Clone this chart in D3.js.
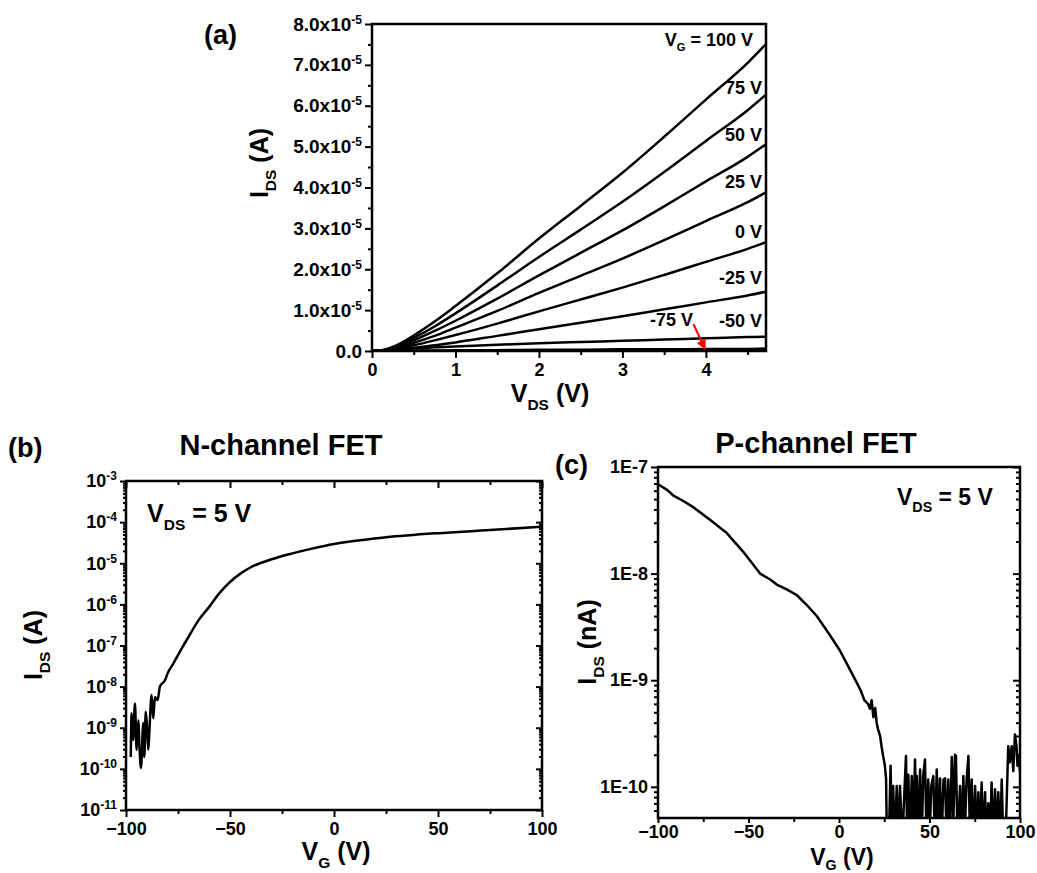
<!DOCTYPE html>
<html>
<head>
<meta charset="utf-8">
<script src="https://cdn.jsdelivr.net/npm/d3@7"></script>
<style>
body { margin: 0; background: #fff; }
svg text { font-family: "Liberation Sans", Arial, sans-serif; font-weight: bold; fill: #000; }
</style>
</head>
<body>
<svg id="svg"></svg>
<script>
// ---- panel (a): output curves, I_DS in units of 1e-5 A ----
const vds = [0, 0.1, 0.25, 0.5, 0.75, 1, 1.5, 2, 2.5, 3, 3.5, 4, 4.5, 4.72];
const idsVg100 = [0, 0.01, 0.1, 0.38, 0.72, 1.1, 1.9, 2.75, 3.55, 4.36, 5.24, 6.15, 7.05, 7.51];
const idsVg75 = [0, 0.01, 0.08, 0.32, 0.6, 0.92, 1.6, 2.3, 2.97, 3.65, 4.38, 5.14, 5.89, 6.27];
const idsVg50 = [0, 0.01, 0.07, 0.26, 0.49, 0.74, 1.28, 1.85, 2.4, 2.95, 3.54, 4.15, 4.75, 5.06];
const idsVg25 = [0, 0.01, 0.05, 0.2, 0.37, 0.57, 0.98, 1.42, 1.84, 2.26, 2.71, 3.18, 3.64, 3.88];
const idsVg0 = [0, 0, 0.04, 0.14, 0.26, 0.39, 0.67, 0.97, 1.26, 1.55, 1.86, 2.18, 2.5, 2.66];
const idsVgM25 = [0, 0, 0.02, 0.08, 0.14, 0.21, 0.37, 0.53, 0.69, 0.85, 1.02, 1.19, 1.36, 1.45];
const idsVgM50 = [0, 0, 0.03, 0.06, 0.09, 0.11, 0.15, 0.19, 0.22, 0.25, 0.28, 0.31, 0.34, 0.35];
const idsVgM75 = [0, 0, 0, 0.01, 0.01, 0.02, 0.02, 0.03, 0.03, 0.04, 0.04, 0.05, 0.05, 0.06];
const idsVgM100 = [0, 0, 0, 0, 0, 0, 0, 0.01, 0.01, 0.01, 0.01, 0.01, 0.01, 0.01];
const gateLabels = ["100", "75 V", "50 V", "25 V", "0 V", "-25 V", "-50 V"];
const xTicksA = [0, 1, 2, 3, 4];
const yTicksA = [0, 1, 2, 3, 4, 5, 6, 7, 8];

// ---- panel (b): N-channel transfer curve ----
const vgN = [-97.7, -97.3, -96.6, -95.7, -94.9, -94.1, -93.5, -92.8, -91.7, -91.2, -90.5, -89.9, -89.3, -88.8,
  -87.7, -86.9, -86.1, -84.8, -83.7, -81.2, -80, -77.3, -73.2, -70, -65, -60, -55, -50, -45, -40,
  -30, -20, -10, 0, 25, 50, 75, 100];
const idsN = [1.95e-10, 2.24e-9, 5e-10, 3.9e-9, 2.9e-10, 1.5e-9, 3.2e-10, 1.05e-10, 1.3e-9, 1.95e-10, 2.45e-9, 1.05e-9, 2.9e-10, 7.4e-10,
  6.3e-9, 1.7e-9, 5.6e-9, 4.7e-9, 1e-8, 1.45e-8, 2.1e-8, 3.6e-8, 8.5e-8, 1.6e-7, 4.2e-7, 8.7e-7, 1.9e-6, 3.5e-6, 5.6e-6, 8.0e-6,
  1.25e-5, 1.74e-5, 2.3e-5, 2.93e-5, 4.27e-5, 5.4e-5, 6.4e-5, 7.8e-5];
const xTicksB = [-100, -50, 0, 50, 100];
const yTicksB = [1e-11, 1e-10, 1e-9, 1e-8, 1e-7, 1e-6, 1e-5, 1e-4, 1e-3];

// ---- panel (c): P-channel transfer curve ----
const vgP = [-100, -98.9, -95, -91.5, -86, -80.5, -71.3, -62, -52.9, -43.6, -38, -34.4, -28.9, -23.4, -17.9, -12.3, -6, 0.5, 5.1, 9.8,
  12, 14, 16, 17.1, 18, 19, 20, 20.8, 21.5, 22.7, 23.5, 24.5, 25.3, 26, 26.5,
  27.5, 28.5, 29.2, 29.9, 30.8, 31.9, 32.8, 33.7, 35, 36, 37, 37.6, 38.3, 39.2, 40.2, 41.1, 42, 42.5, 43, 43.9,
  44.8, 45.7, 46.5, 47.5, 48.4, 49.3, 50.2, 51, 52.1, 53, 54, 54.9, 55.8, 56.7, 57.7, 58.6, 59.5, 60.4, 61.3,
  62.3, 63.2, 64.1, 64.6, 65.5, 66.9, 67.8, 68.7, 69.6, 70.5, 71.5, 72.4, 73.3, 74.2, 75.2, 76.1, 77, 77.9,
  78.8, 79.7, 80.7, 81.6, 82.5, 83.4, 84.3, 85.2, 86.2, 87.1, 88, 89, 89.9, 90.8, 92, 92.6, 93.5, 94.4, 95.4,
  96.3, 97.2, 98.1, 98.6, 99.1, 100];
const idsP = [6.9e-8, 6.7e-8, 6.1e-8, 5.4e-8, 4.8e-8, 4.2e-8, 3.2e-8, 2.4e-8, 1.6e-8, 1e-8, 8.8e-9, 7.9e-9, 7.1e-9, 6.3e-9, 5.1e-9, 4e-9, 2.8e-9, 1.9e-9, 1.35e-9, 9.5e-10,
  8e-10, 6.5e-10, 6e-10, 5.4e-10, 6.5e-10, 4.5e-10, 5.5e-10, 4e-10, 3.5e-10, 3e-10, 2.4e-10, 1.9e-10, 1.6e-10, 1.2e-10, 3e-11,
  3e-11, 1.58e-10, 3e-11, 1.02e-10, 3e-11, 1.02e-10, 3e-11, 1.02e-10, 3e-11, 8e-11, 1.95e-10, 4e-11, 1.3e-10, 3e-11, 1.26e-10, 4e-11, 1.8e-10, 5e-11, 1.26e-10, 3e-11,
  1.45e-10, 3e-11, 1.26e-10, 1.8e-10, 3e-11, 1.17e-10, 4e-11, 1.02e-10, 1.26e-10, 3e-11, 1.45e-10, 4e-11, 1.2e-10, 3e-11, 1.17e-10, 1.2e-10, 3e-11, 1.17e-10, 3e-11,
  1.9e-10, 5e-11, 2e-10, 1.95e-10, 3e-11, 1.02e-10, 3e-11, 1.26e-10, 4e-11, 1.17e-10, 1.95e-10, 3e-11, 1.17e-10, 3e-11, 1.02e-10, 3e-11, 8.9e-11, 3e-11,
  1.1e-10, 3e-11, 8.9e-11, 3e-11, 7e-11, 3e-11, 1.1e-10, 3e-11, 9.5e-11, 3e-11, 8.9e-11, 3e-11, 1.17e-10, 3e-11, 3e-11, 7e-11, 2.4e-10, 1.7e-10, 2.4e-10,
  1.4e-10, 3.1e-10, 2.4e-10, 1.58e-10, 2e-10, 1.4e-10];
const xTicksC = [-100, -50, 0, 50, 100];
const yTicksC = [1e-10, 1e-9, 1e-8, 1e-7];

const w = 1037, h = 873;
const tickFont = 18;

const svg = d3.select("#svg").attr("width", w).attr("height", h);
svg.append("rect").attr("width", w).attr("height", h).attr("fill", "#fff");

const defs = svg.append("defs");
defs.append("marker")
  .attr("id", "arrow").attr("viewBox", "0 0 10 10").attr("refX", 9).attr("refY", 5)
  .attr("markerWidth", 5).attr("markerHeight", 5).attr("orient", "auto")
  .append("path").attr("d", "M0,0 L10,5 L0,10 z").attr("fill", "red");

// text with sub/superscripts: parts = [[text, 0|1|-1]]  (1 = subscript, -1 = superscript)
function richText(g, x, y, parts, size, anchor, rotate, subDrop) {
  const drop = subDrop || 0.3;
  const t = g.append("text")
    .attr("text-anchor", anchor || "start")
    .attr("font-size", size);
  if (rotate) t.attr("transform", `translate(${x},${y}) rotate(-90)`);
  else t.attr("x", x).attr("y", y);
  let shift = 0;
  parts.forEach(p => {
    const s = p[1] === 1 ? size * drop : p[1] === -1 ? -size * 0.42 : 0;
    t.append("tspan")
      .attr("dy", s - shift)
      .attr("font-size", p[1] === 0 ? size : size * 0.62)
      .text(p[0]);
    shift = s;
  });
  return t;
}

function styleAxis(sel) {
  sel.select(".domain").remove();
  sel.selectAll(".tick line").attr("stroke", "#000").attr("stroke-width", 2);
  sel.selectAll(".tick text").attr("font-size", tickFont).attr("fill", "#000");
}

function frame(g, x0, x1, y0, y1) {
  g.append("rect").attr("x", x0).attr("y", y0).attr("width", x1 - x0).attr("height", y1 - y0)
    .attr("fill", "none").attr("stroke", "#000").attr("stroke-width", 2.5);
}

function clip(id, x0, x1, y0, y1) {
  defs.append("clipPath").attr("id", id).append("rect")
    .attr("x", x0).attr("y", y0).attr("width", x1 - x0).attr("height", y1 - y0);
}

// =================== panel (a) ===================
const xA = d3.scaleLinear().domain([0, 4.72]).range([372, 766]);
const yA = d3.scaleLinear().domain([0, 8]).range([351, 24]);
const gA = svg.append("g");
clip("clipA", 372, 766, 24, 351);

gA.append("g").attr("transform", `translate(0,${yA(0)})`)
  .call(d3.axisBottom(xA).tickValues(d3.range(0.5, 4.6, 1)).tickSize(4).tickFormat(""))
  .call(styleAxis);
gA.append("g").attr("transform", `translate(0,${yA(0)})`)
  .call(d3.axisBottom(xA).tickValues(xTicksA).tickSize(7).tickPadding(5).tickFormat(d3.format("d")))
  .call(styleAxis);
gA.append("g").attr("transform", `translate(${xA(0)},0)`)
  .call(d3.axisLeft(yA).tickValues(d3.range(0.5, 8, 1)).tickSize(4).tickFormat(""))
  .call(styleAxis);
gA.append("g").attr("transform", `translate(${xA(0)},0)`)
  .call(d3.axisLeft(yA).tickValues(yTicksA).tickSize(7).tickPadding(3))
  .call(styleAxis)
  .selectAll(".tick text")
  .attr("font-size", 19)
  .each(function(d) {
    const t = d3.select(this).text("");
    if (d === 0) { t.text("0.0"); return; }
    t.append("tspan").text(d.toFixed(1) + "x10");
    t.append("tspan").attr("dy", -7).attr("font-size", 12).text("-5");
  });

const curvesA = [idsVg100, idsVg75, idsVg50, idsVg25, idsVg0, idsVgM25, idsVgM50, idsVgM75, idsVgM100];
const lineA = d3.line().curve(d3.curveMonotoneX).x((d, i) => xA(vds[i])).y(d => yA(d));
gA.append("g").attr("clip-path", "url(#clipA)")
  .selectAll("path").data(curvesA).join("path")
  .attr("d", lineA).attr("fill", "none").attr("stroke", "#000").attr("stroke-width", 2.5);

frame(gA, 372, 766, 24, 351);

// curve labels
const labelOffsets = [0, -1, -3, -4, -4, -8, -10];
curvesA.slice(1, 7).forEach((c, i) => {
  gA.append("text").attr("x", 762).attr("y", yA(c[c.length - 1]) + labelOffsets[i + 1])
    .attr("text-anchor", "end").attr("font-size", 18).text(gateLabels[i + 1]);
});
richText(gA, 753, yA(idsVg100[idsVg100.length - 1]) + 2, [["V", 0], ["G", 1], [" = " + gateLabels[0] + " V", 0]], 18, "end");
gA.append("text").attr("x", 693).attr("y", 326).attr("text-anchor", "end").attr("font-size", 18).text("-75 V");
gA.append("line")
  .attr("x1", xA(3.85)).attr("y1", yA(0.66)).attr("x2", xA(3.99)).attr("y2", yA(0.05))
  .attr("stroke", "red").attr("stroke-width", 2).attr("marker-end", "url(#arrow)");

richText(gA, 550, 402, [["V", 0], ["DS", 1], [" (V)", 0]], 25, "middle");
richText(gA, 268, 163, [["I", 0], ["DS", 1], [" (A)", 0]], 25, "middle", true);
gA.append("text").attr("x", 204).attr("y", 44).attr("font-size", 27).text("(a)");

// =================== panel (b) ===================
const xB = d3.scaleLinear().domain([-100, 100]).range([126, 542]);
const yB = d3.scaleLog().domain([1e-11, 1e-3]).range([810, 481]);
const gB = svg.append("g");
clip("clipB", 126, 542, 481, 810);
const minorB = [];
yTicksB.slice(0, -1).forEach(d => { for (let k = 2; k < 10; k++) minorB.push(d * k); });
const xMinor = [-75, -25, 25, 75];

gB.append("g").attr("transform", `translate(0,810)`)
  .call(d3.axisBottom(xB).tickValues(xMinor).tickSize(4).tickFormat("")).call(styleAxis);
gB.append("g").attr("transform", `translate(0,810)`)
  .call(d3.axisBottom(xB).tickValues(xTicksB).tickSize(7).tickPadding(5).tickFormat(d3.format("d"))).call(styleAxis);
gB.append("g").attr("transform", `translate(0,481)`)
  .call(d3.axisBottom(xB).tickValues(xMinor).tickSize(4).tickFormat("")).call(styleAxis);
gB.append("g").attr("transform", `translate(0,481)`)
  .call(d3.axisBottom(xB).tickValues(xTicksB).tickSize(7).tickFormat("")).call(styleAxis);
gB.append("g").attr("transform", `translate(126,0)`)
  .call(d3.axisLeft(yB).tickValues(minorB).tickSize(3).tickFormat("")).call(styleAxis);
gB.append("g").attr("transform", `translate(542,0)`)
  .call(d3.axisLeft(yB).tickValues(minorB).tickSize(3).tickFormat("")).call(styleAxis);
gB.append("g").attr("transform", `translate(542,0)`)
  .call(d3.axisLeft(yB).tickValues(yTicksB).tickSize(6).tickFormat("")).call(styleAxis);
gB.append("g").attr("transform", `translate(126,0)`)
  .call(d3.axisLeft(yB).tickValues(yTicksB).tickSize(6).tickPadding(3)).call(styleAxis)
  .selectAll(".tick text")
  .each(function(d) {
    const t = d3.select(this).text("");
    t.append("tspan").text("10");
    t.append("tspan").attr("dy", -7).attr("font-size", 12).text(String(Math.round(Math.log10(d))));
  });

gB.append("path").datum(idsN).attr("clip-path", "url(#clipB)")
  .attr("d", d3.line().curve(d3.curveMonotoneX).x((d, i) => xB(vgN[i])).y(d => yB(d)))
  .attr("fill", "none").attr("stroke", "#000").attr("stroke-width", 2.5).attr("stroke-linejoin", "round");
frame(gB, 126, 542, 481, 810);

richText(gB, 147, 522, [["V", 0], ["DS", 1], [" = 5 V", 0]], 25, "start");
gB.append("text").attr("x", 281).attr("y", 455).attr("text-anchor", "middle").attr("font-size", 29).text("N-channel FET");
richText(gB, 336, 860, [["V", 0], ["G", 1], [" (V)", 0]], 25, "middle");
richText(gB, 42, 645, [["I", 0], ["DS", 1], [" (A)", 0]], 25, "middle", true);
gB.append("text").attr("x", 8).attr("y", 457).attr("font-size", 27).text("(b)");

// =================== panel (c) ===================
const xC = d3.scaleLinear().domain([-100, 100]).range([658, 1020]);
const yC = d3.scaleLog().domain([5.1e-11, 1e-7]).range([818, 467]);
const gC = svg.append("g");
clip("clipC", 658, 1020, 467, 818);
const minorC = [];
[1e-11, 1e-10, 1e-9, 1e-8].forEach(d => { for (let k = 2; k < 10; k++) if (d * k >= 5.1e-11) minorC.push(d * k); });

gC.append("g").attr("transform", `translate(0,818)`)
  .call(d3.axisBottom(xC).tickValues(xMinor).tickSize(4).tickFormat("")).call(styleAxis);
gC.append("g").attr("transform", `translate(0,818)`)
  .call(d3.axisBottom(xC).tickValues(xTicksC).tickSize(5).tickPadding(2).tickFormat(d3.format("d"))).call(styleAxis);
gC.append("g").attr("transform", `translate(658,0)`)
  .call(d3.axisLeft(yC).tickValues(minorC).tickSize(4).tickFormat("")).call(styleAxis);
gC.append("g").attr("transform", `translate(1020,0)`)
  .call(d3.axisRight(yC).tickValues(minorC).tickSize(-4).tickFormat("")).call(styleAxis);
gC.append("g").attr("transform", `translate(1020,0)`)
  .call(d3.axisRight(yC).tickValues(yTicksC).tickSize(-7).tickFormat("")).call(styleAxis);
gC.append("g").attr("transform", `translate(658,0)`)
  .call(d3.axisLeft(yC).tickValues(yTicksC).tickSize(7).tickPadding(3)
    .tickFormat(d => "1E" + Math.round(Math.log10(d)))).call(styleAxis);

gC.append("path").datum(idsP).attr("clip-path", "url(#clipC)")
  .attr("d", d3.line().x((d, i) => xC(vgP[i])).y(d => yC(d)))
  .attr("fill", "none").attr("stroke", "#000").attr("stroke-width", 2.5).attr("stroke-linejoin", "round");
frame(gC, 658, 1020, 467, 818);

richText(gC, 897, 505, [["V", 0], ["DS", 1], [" = 5 V", 0]], 23, "start");
gC.append("text").attr("x", 816).attr("y", 453).attr("text-anchor", "middle").attr("font-size", 29).text("P-channel FET");
richText(gC, 842, 865, [["V", 0], ["G", 1], [" (V)", 0]], 23, "middle", false, 0.2);
richText(gC, 596, 642, [["I", 0], ["DS", 1], [" (nA)", 0]], 25, "middle", true);
gC.append("text").attr("x", 555).attr("y", 474).attr("font-size", 27).text("(c)");
</script>
</body>
</html>
